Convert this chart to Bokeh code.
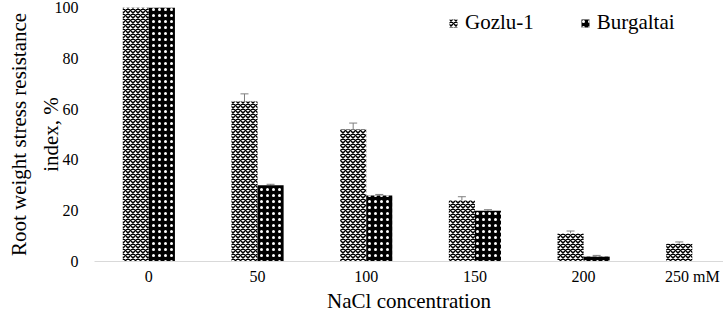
from bokeh.plotting import figure
from bokeh.models import (ColumnDataSource, Range1d, FixedTicker, Whisker, TeeHead,
                          Legend, LegendItem)
from bokeh.embed import file_html
from bokeh.resources import INLINE

categories = ["0", "50", "100", "150", "200", "250 mM"]
gozlu = [100, 63, 52, 24, 11, 7]
gozlu_err = [0.5, 3, 2.5, 1.5, 1, 0.7]
burgaltai = [100, 30, 26, 20, 2, 0]
burgaltai_err = [0.3, 0.4, 0.4, 0.4, 0.4, 0]

FONT = "Liberation Serif"
idx = list(range(len(categories)))
bw = 0.24

src_g = ColumnDataSource(dict(x=[i - bw / 2 for i in idx], top=gozlu,
                              up=[v + e for v, e in zip(gozlu, gozlu_err)]))
src_b = ColumnDataSource(dict(x=[i + bw / 2 for i in idx], top=burgaltai,
                              up=[v + e for v, e in zip(burgaltai, burgaltai_err)]))

p = figure(width=723, height=315, output_backend="svg", toolbar_location=None,
           x_range=Range1d(-0.5, 5.287), y_range=Range1d(0, 100),
           min_border_left=94, min_border_right=0, min_border_top=7, min_border_bottom=52)
p.outline_line_color = None
p.xgrid.grid_line_color = None
p.ygrid.grid_line_color = None

rg = p.vbar(x="x", top="top", width=bw, source=src_g, fill_color="white",
            line_color=None, hatch_pattern="diagonal_cross", hatch_color="black",
            hatch_scale=5, hatch_weight=1.5)
rb = p.vbar(x="x", top="top", width=bw, source=src_b, fill_color="black",
            line_color=None, hatch_pattern="dot", hatch_color="white",
            hatch_scale=6, hatch_weight=1)

for src in (src_g, src_b):
    w = Whisker(base="x", lower="top", upper="up", source=src, line_color="#7f7f7f",
                line_width=1, upper_head=TeeHead(size=8, line_color="#7f7f7f", line_width=1),
                lower_head=None)
    p.add_layout(w)

p.xaxis.ticker = FixedTicker(ticks=idx)
p.xaxis.major_label_overrides = {i: c for i, c in zip(idx, categories)}
p.xaxis.major_tick_line_color = None
p.xaxis.minor_tick_line_color = None
p.xaxis.major_tick_out = 0
p.xaxis.axis_line_color = "#d9d9d9"
p.xaxis.major_label_text_font = FONT
p.xaxis.major_label_text_font_size = "16px"
p.xaxis.major_label_text_font_style = "normal"
p.xaxis.major_label_text_color = "black"
p.xaxis.major_label_standoff = 6
p.xaxis.axis_label = "NaCl concentration"
p.xaxis.axis_label_text_font = FONT
p.xaxis.axis_label_text_font_size = "21px"
p.xaxis.axis_label_text_font_style = "normal"
p.xaxis.axis_label_text_color = "black"
p.xaxis.axis_label_standoff = 1

p.yaxis.ticker = FixedTicker(ticks=[0, 20, 40, 60, 80, 100])
p.yaxis.major_tick_line_color = None
p.yaxis.minor_tick_line_color = None
p.yaxis.major_tick_out = 0
p.yaxis.axis_line_color = None
p.yaxis.major_label_text_font = FONT
p.yaxis.major_label_text_font_size = "16px"
p.yaxis.major_label_text_font_style = "normal"
p.yaxis.major_label_text_color = "black"
p.yaxis.major_label_standoff = 16
p.yaxis.axis_label = "Root weight stress resistance\nindex, %"
p.yaxis.axis_label_text_font = FONT
p.yaxis.axis_label_text_font_size = "21px"
p.yaxis.axis_label_text_font_style = "normal"
p.yaxis.axis_label_text_color = "black"
p.yaxis.axis_label_text_line_height = 1.3
p.yaxis.axis_label_standoff = -11

legend = Legend(items=[LegendItem(label="Gozlu-1", renderers=[rg]),
                       LegendItem(label="Burgaltai", renderers=[rb])],
                orientation="horizontal", location=(354, 226),
                glyph_width=10, glyph_height=10, spacing=46, padding=0, margin=0,
                label_standoff=7, border_line_color=None, background_fill_alpha=0)
legend.label_text_font = FONT
legend.label_text_font_size = "21px"
legend.label_text_font_style = "normal"
legend.label_text_color = "black"
p.add_layout(legend)

open("out.html", "w").write(file_html(p, INLINE))
